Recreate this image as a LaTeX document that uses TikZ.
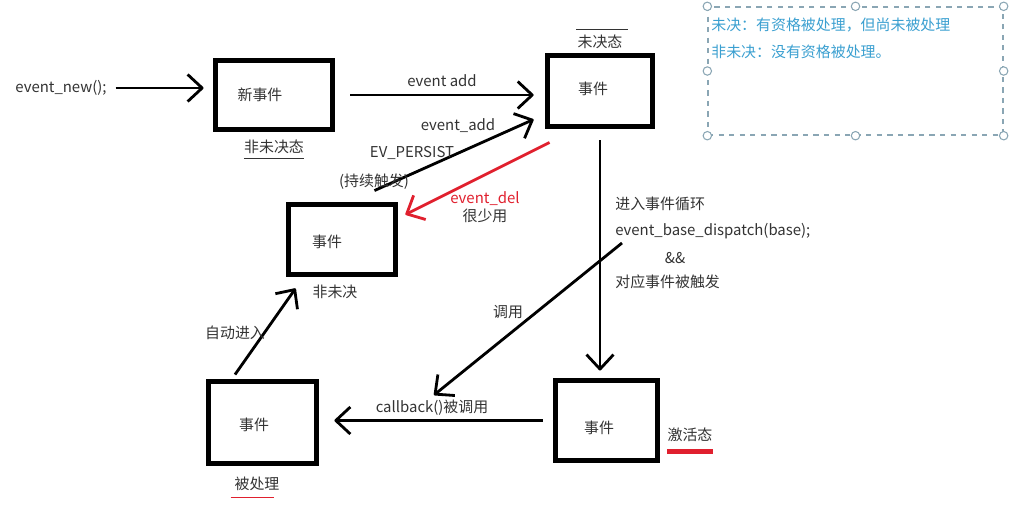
\documentclass[tikz,border=0pt]{standalone}
\usepackage{fontspec}
\setmainfont{Noto Sans CJK SC}
\usepackage{xcolor}
\usepackage{tikz}
\usetikzlibrary{arrows.meta, calc}

\definecolor{delred}{HTML}{E0202E}
\definecolor{noteblue}{HTML}{3A9FD0}
\definecolor{notegray}{HTML}{8AA6B4}
\definecolor{txtgray}{HTML}{333333}

\begin{document}
\begin{tikzpicture}[x=0.02cm, y=-0.02cm,
    evbox/.style={draw, line width=2.8pt, inner sep=0pt},
    arr/.style={-{Straight Barb[length=2.9mm,width=5.4mm,line join=round]}, line width=1.6pt},
    lbl/.style={inner sep=0pt, font=\fontsize{8.5}{10}\selectfont, text=txtgray}]
  \useasboundingbox (0,0) rectangle (1021,505);

  % Zustaende (Kaesten)
  \node[evbox, minimum width=2.34cm, minimum height=1.38cm] (A) at (274,95) {};
  \node[evbox, minimum width=2.1cm, minimum height=1.42cm] (B) at (600,91) {};
  \node[evbox, minimum width=2.14cm, minimum height=1.4cm] (C) at (342,239.5) {};
  \node[evbox, minimum width=2.16cm, minimum height=1.64cm] (D) at (262.5,422.5) {};
  \node[evbox, minimum width=2.04cm, minimum height=1.6cm] (E) at (606.5,420.5) {};

  % Texte in den Kaesten
  \node[lbl] (At) at (260,95) {新事件};
  \node[lbl] (Bt) at (593,89) {事件};
  \node[lbl] (Ct) at (327,242) {事件};
  \node[lbl] (Dt) at (254,425) {事件};
  \node[lbl] (Et) at (599,428) {事件};

  % Zustandsnamen
  \node[lbl] (As) at (274,147) {非未决态};
  \draw[txtgray, line width=0.6pt] ([yshift=-2.5pt]As.south west) -- ([yshift=-2.5pt]As.south east);
  \node[lbl] (Bs) at (600,42) {未决态};
  \draw[txtgray, line width=0.6pt] ([xshift=-0.5pt,yshift=3pt]Bs.north west) -- ([xshift=3pt,yshift=3pt]Bs.north east);
  \node[lbl] (Cs) at (335,292) {非未决};
  \node[lbl] (Ds) at (257,484) {被处理};
  \draw[delred, line width=0.9pt] ([xshift=-2pt,yshift=-3.5pt]Ds.south west) -- ([xshift=-3pt,yshift=-3.5pt]Ds.south east);
  \node[lbl] (Es) at (690,435) {激活态};
  \draw[delred, line width=2.8pt] ([yshift=-5pt]Es.south west) -- ([yshift=-5pt]Es.south east);

  % event_new
  \node[lbl] (new) at (61,88) {event\_new();};
  \draw[arr, shorten <=5pt, shorten >=5.4pt] (new.east) -- (new.east -| A.west);

  % event_add
  \draw[arr, shorten <=8.8pt, shorten >=6.5pt] (A.east) -- (A.east -| B.west);
  \node[lbl] (add) at (442,81) {event add};

  % EV_PERSIST
  \draw[arr] ([xshift=-0.47cm,yshift=0.23cm]C.north east) -- ([xshift=-0.23cm,yshift=0.19cm]B.south west);
  \node[lbl] (add2) at (458,126) {event\_add};
  \node[lbl] (pers) at (412,153) {EV\_PERSIST};
  \node[lbl] (persz) at (374,182) {(持续触发)};

  % event_del
  \draw[arr, delred] ([xshift=0.09cm,yshift=-0.27cm]B.south west) -- ([xshift=0.15cm,yshift=-0.25cm]C.north east);
  \node[lbl, text=delred] (del) at (485,199) {event\_del};
  \node[lbl] (delz) at (485,216) {很少用};

  % Ereignisschleife
  \draw[arr, shorten <=6.5pt, shorten >=4.3pt] (B.south) -- (B.south |- E.north);
  \node[lbl, anchor=west] (loop1) at (615,204) {进入事件循环};
  \node[lbl, anchor=west] (loop2) at (615,231) {event\_base\_dispatch(base);};
  \node[lbl] (loop3) at (675,258) {\&\&};
  \node[lbl, anchor=west] (loop4) at (615,282) {对应事件被触发};

  % Aufruf
  \coordinate (calls) at (622,243);
  \coordinate (calle) at (434,395);
  \draw[arr] (calls) -- (calle);
  \node[lbl] (call) at (508,312) {调用};

  % callback
  \draw[arr, shorten <=6pt, shorten >=8.8pt] (E.west) -- (E.west -| D.east);
  \node[lbl] (cb) at (432,408) {callback()被调用};

  % zurueck
  \draw[arr] ([xshift=-0.55cm,yshift=0.09cm]D.north) -- ([xshift=0.19cm,yshift=-0.23cm]C.south west);
  \node[lbl] (auto) at (235,333) {自动进入};

  % Notiz
  \node[draw=notegray, dashed, line width=0.8pt, inner sep=0pt,
        minimum width=5.9cm, minimum height=2.56cm] (note) at (855.5,71) {};
  \foreach \a in {north west, north, north east, east, south east, south, south west, west}
    \draw[notegray, fill=white, line width=0.6pt] (note.\a) circle (2.4pt);
  \node[lbl, anchor=west, text=noteblue] (n1) at (711,25) {未决：有资格被处理，但尚未被处理};
  \node[lbl, anchor=west, text=noteblue] (n2) at (711,52) {非未决：没有资格被处理。};
\end{tikzpicture}
\end{document}
